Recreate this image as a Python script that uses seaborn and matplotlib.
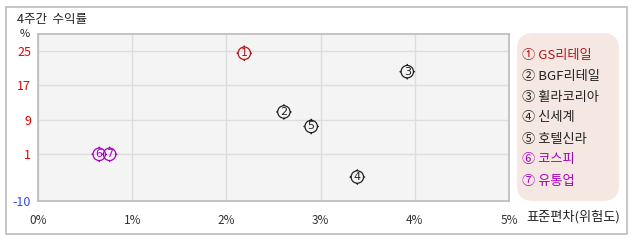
import numpy as np
import pandas as pd
import matplotlib
matplotlib.use("Agg")
import matplotlib.pyplot as plt
import seaborn as sns
from matplotlib.path import Path
from matplotlib.patches import FancyBboxPatch, Rectangle

names = ["GS리테일", "BGF리테일", "휠라코리아", "신세계", "호텔신라", "코스피", "유통업"]
marks = ["①", "②", "③", "④", "⑤", "⑥", "⑦"]
digits = ["1", "2", "3", "4", "5", "6", "7"]
risk = [2.19, 2.61, 3.92, 3.39, 2.90, 0.65, 0.76]
ret = [24.5, 10.8, 20.2, -4.4, 7.4, 0.9, 0.9]
colors = ["#B0141C", "#222222", "#222222", "#222222", "#222222", "#A800C0", "#A800C0"]
x_ticks = [0, 1, 2, 3, 4, 5]
x_labels = ["0%", "1%", "2%", "3%", "4%", "5%"]
y_ticks = [25, 17, 9, 1, -10]
y_labels = ["25", "17", "9", "1", "-10"]

sns.set_theme(style="white")
plt.rcParams['font.family'] = ['Noto Sans CJK KR', 'DejaVu Sans']
plt.rcParams['axes.unicode_minus'] = False

df = pd.DataFrame({"name": names, "risk": risk, "ret": ret})

# circle marker with four small ticks
circ = Path.unit_circle()
t = 1.25
ticks = Path([(1, 0), (t, 0), (-1, 0), (-t, 0), (0, 1), (0, t), (0, -1), (0, -t)],
             [Path.MOVETO, Path.LINETO] * 4)
marker = Path.make_compound_path(circ, ticks)

fig = plt.figure(figsize=(6.38, 2.42), dpi=100)
fig.patch.set_facecolor("white")
fig.patches.append(Rectangle((6 / 638, 1 - 234 / 242), 621 / 638, 227 / 242,
                             transform=fig.transFigure, fill=False,
                             edgecolor="#BBBBBB", linewidth=1.2))

ax = fig.add_axes([38 / 638, 1 - 201 / 242, 471 / 638, 167 / 242])
ax.set_facecolor("#F4F4F4")
sns.scatterplot(data=df, x="risk", y="ret", hue="name", palette=dict(zip(names, colors)),
                marker=marker, s=125, facecolor="none", linewidth=0.9, legend=False, ax=ax)
coll = ax.collections[0]
coll.set_facecolor("none")
coll.set_edgecolor(colors)

for xi, yi, d, c in zip(risk, ret, digits, colors):
    ax.text(xi, yi, d, color=c, fontsize=8, ha="center", va="center",
            family="DejaVu Sans")

ax.set_xlim(0, 5)
ax.set_ylim(-10, 29)
ax.set_xticks(x_ticks)
ax.set_xticklabels(x_labels, fontsize=8.5, color="#333333")
ax.set_yticks(y_ticks)
ax.set_yticklabels(y_labels, fontsize=9)
for lbl, v in zip(ax.get_yticklabels(), y_ticks):
    lbl.set_color("#3344FF" if v < 0 else "#EE0000")
ax.tick_params(axis="both", length=0)
ax.tick_params(axis="x", pad=9)
ax.tick_params(axis="y", pad=5)
ax.grid(True, color="#DDDDDD", linewidth=1.0)
ax.set_axisbelow(True)
for s in ax.spines.values():
    s.set_color("#BBBBBB")
    s.set_linewidth(1.2)
ax.set_xlabel("")
ax.set_ylabel("")

fig.text(17 / 638, 1 - 20 / 242, "4주간  수익률", fontsize=9, color="#222222", va="center")
fig.text(25 / 638, 1 - 34 / 242, "%", fontsize=8, color="#222222", va="center", ha="center")
fig.text(526 / 638, 1 - 217 / 242, "표준편차(위험도)", fontsize=9.5, color="#222222", va="center")

# legend box
fig.patches.append(FancyBboxPatch((517 / 638, 1 - 201 / 242), 102 / 638, 168 / 242,
                                  boxstyle="round,pad=0,rounding_size=0.025",
                                  transform=fig.transFigure, facecolor="#F5E8E2",
                                  edgecolor="none", mutation_aspect=638 / 242))
for i, (m, n, c) in enumerate(zip(marks, names, colors)):
    y = 55 + i * 21
    fig.text(522 / 638, 1 - y / 242, m + " " + n, fontsize=9.5, color=c, va="center")

fig.savefig("out.png", dpi=100)
